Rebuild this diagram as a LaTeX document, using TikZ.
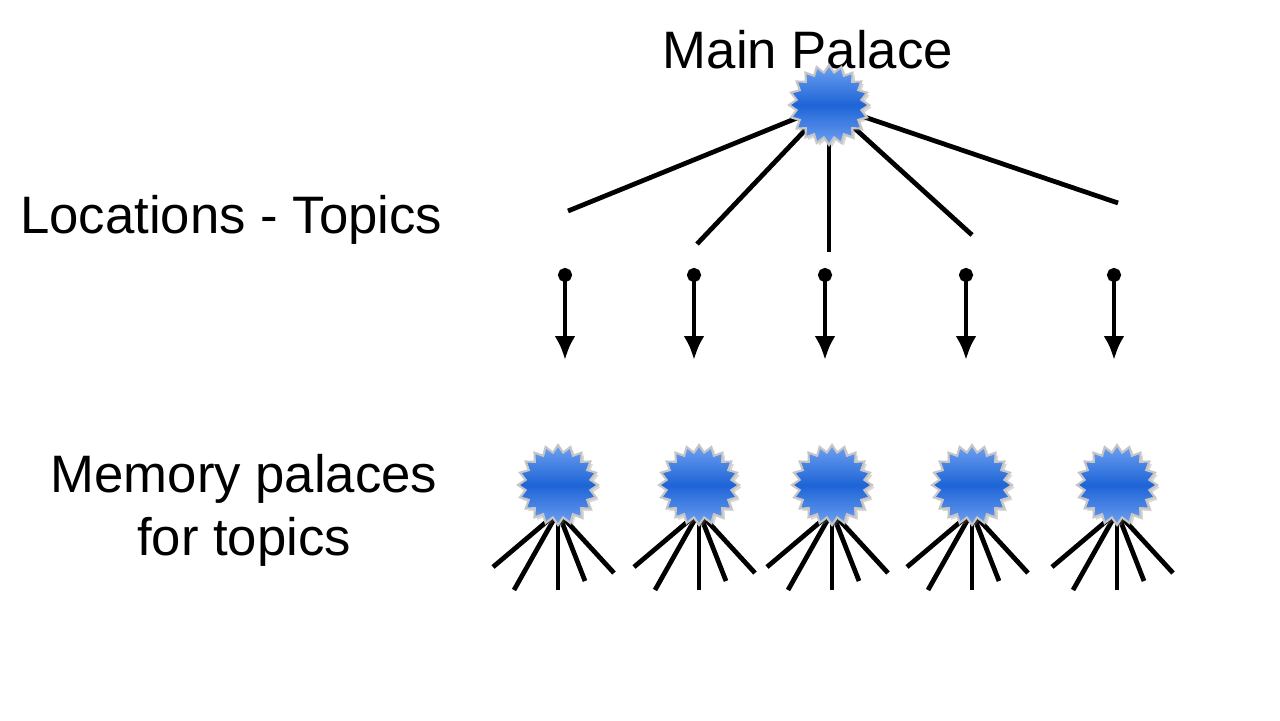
\documentclass[tikz,border=0pt]{standalone}
\usepackage{fontspec}
\setmainfont{Liberation Sans}
\usetikzlibrary{arrows.meta,shapes.geometric,shadows}
\definecolor{burstblue}{RGB}{30,100,215}
\definecolor{burstlight}{RGB}{110,160,240}
\begin{document}
\begin{tikzpicture}[x=0.02cm,y=-0.02cm]

    % --- Styles ---
    \tikzset{
        burst/.style={
            star, star points=20, star point ratio=1.22,
            minimum size=1.6cm, inner sep=0pt,
            draw=gray!45, line width=1.2pt,
            top color=burstlight, bottom color=burstlight, middle color=burstblue,
            drop shadow={shadow xshift=0.5mm, shadow yshift=-0.5mm, opacity=0.3}
        },
        branch/.style={line width=2.7pt, black},
        pointer/.style={line width=2.7pt, {Circle[length=2.8mm]}-{Latex[length=4.8mm, width=4.2mm]}},
        labeltext/.style={font=\fontsize{30}{36}\selectfont, align=center}
    }

    \useasboundingbox (0,0) rectangle (1280,720);

    % --- Labels ---
    \node[labeltext] (mainlabel) at (808,50) {Main Palace};
    \node[labeltext, anchor=west] (loclabel) at (14,220) {Locations - Topics};
    \node[labeltext] (memlabel) at (244,510) {Memory palaces\\for topics};

    % --- Main palace and its locations ---
    \coordinate (loc1) at (568,211);
    \coordinate (loc2) at (697,244);
    \coordinate (loc3) at (829,252);
    \coordinate (loc4) at (972,235);
    \coordinate (loc5) at (1118,203);
    \foreach \i in {1,...,5}
        \draw[branch] (829,105) -- (loc\i);
    \node[burst] (main) at (829,105) {};

    % --- Arrows to topic palaces ---
    \foreach \x [count=\i] in {565,694,825,966,1114} {
        \coordinate (top\i) at (\x,268);
        \coordinate (tip\i) at (\x,360);
        \draw[pointer] (top\i) -- (tip\i);
    }

    % --- Topic palaces ---
    \foreach \x [count=\i] in {558,699,832,972,1117} {
        \coordinate (root\i) at (\x,512);
        \foreach \dx/\dy [count=\j] in {-65/567,-44/590,0/590,27/581,56/573} {
            \coordinate (leg\i-\j) at (\x+\dx,\dy);
            \draw[branch] (root\i) -- (leg\i-\j);
        }
        \node[burst] (topic\i) at (\x,485) {};
    }

\end{tikzpicture}
\end{document}
